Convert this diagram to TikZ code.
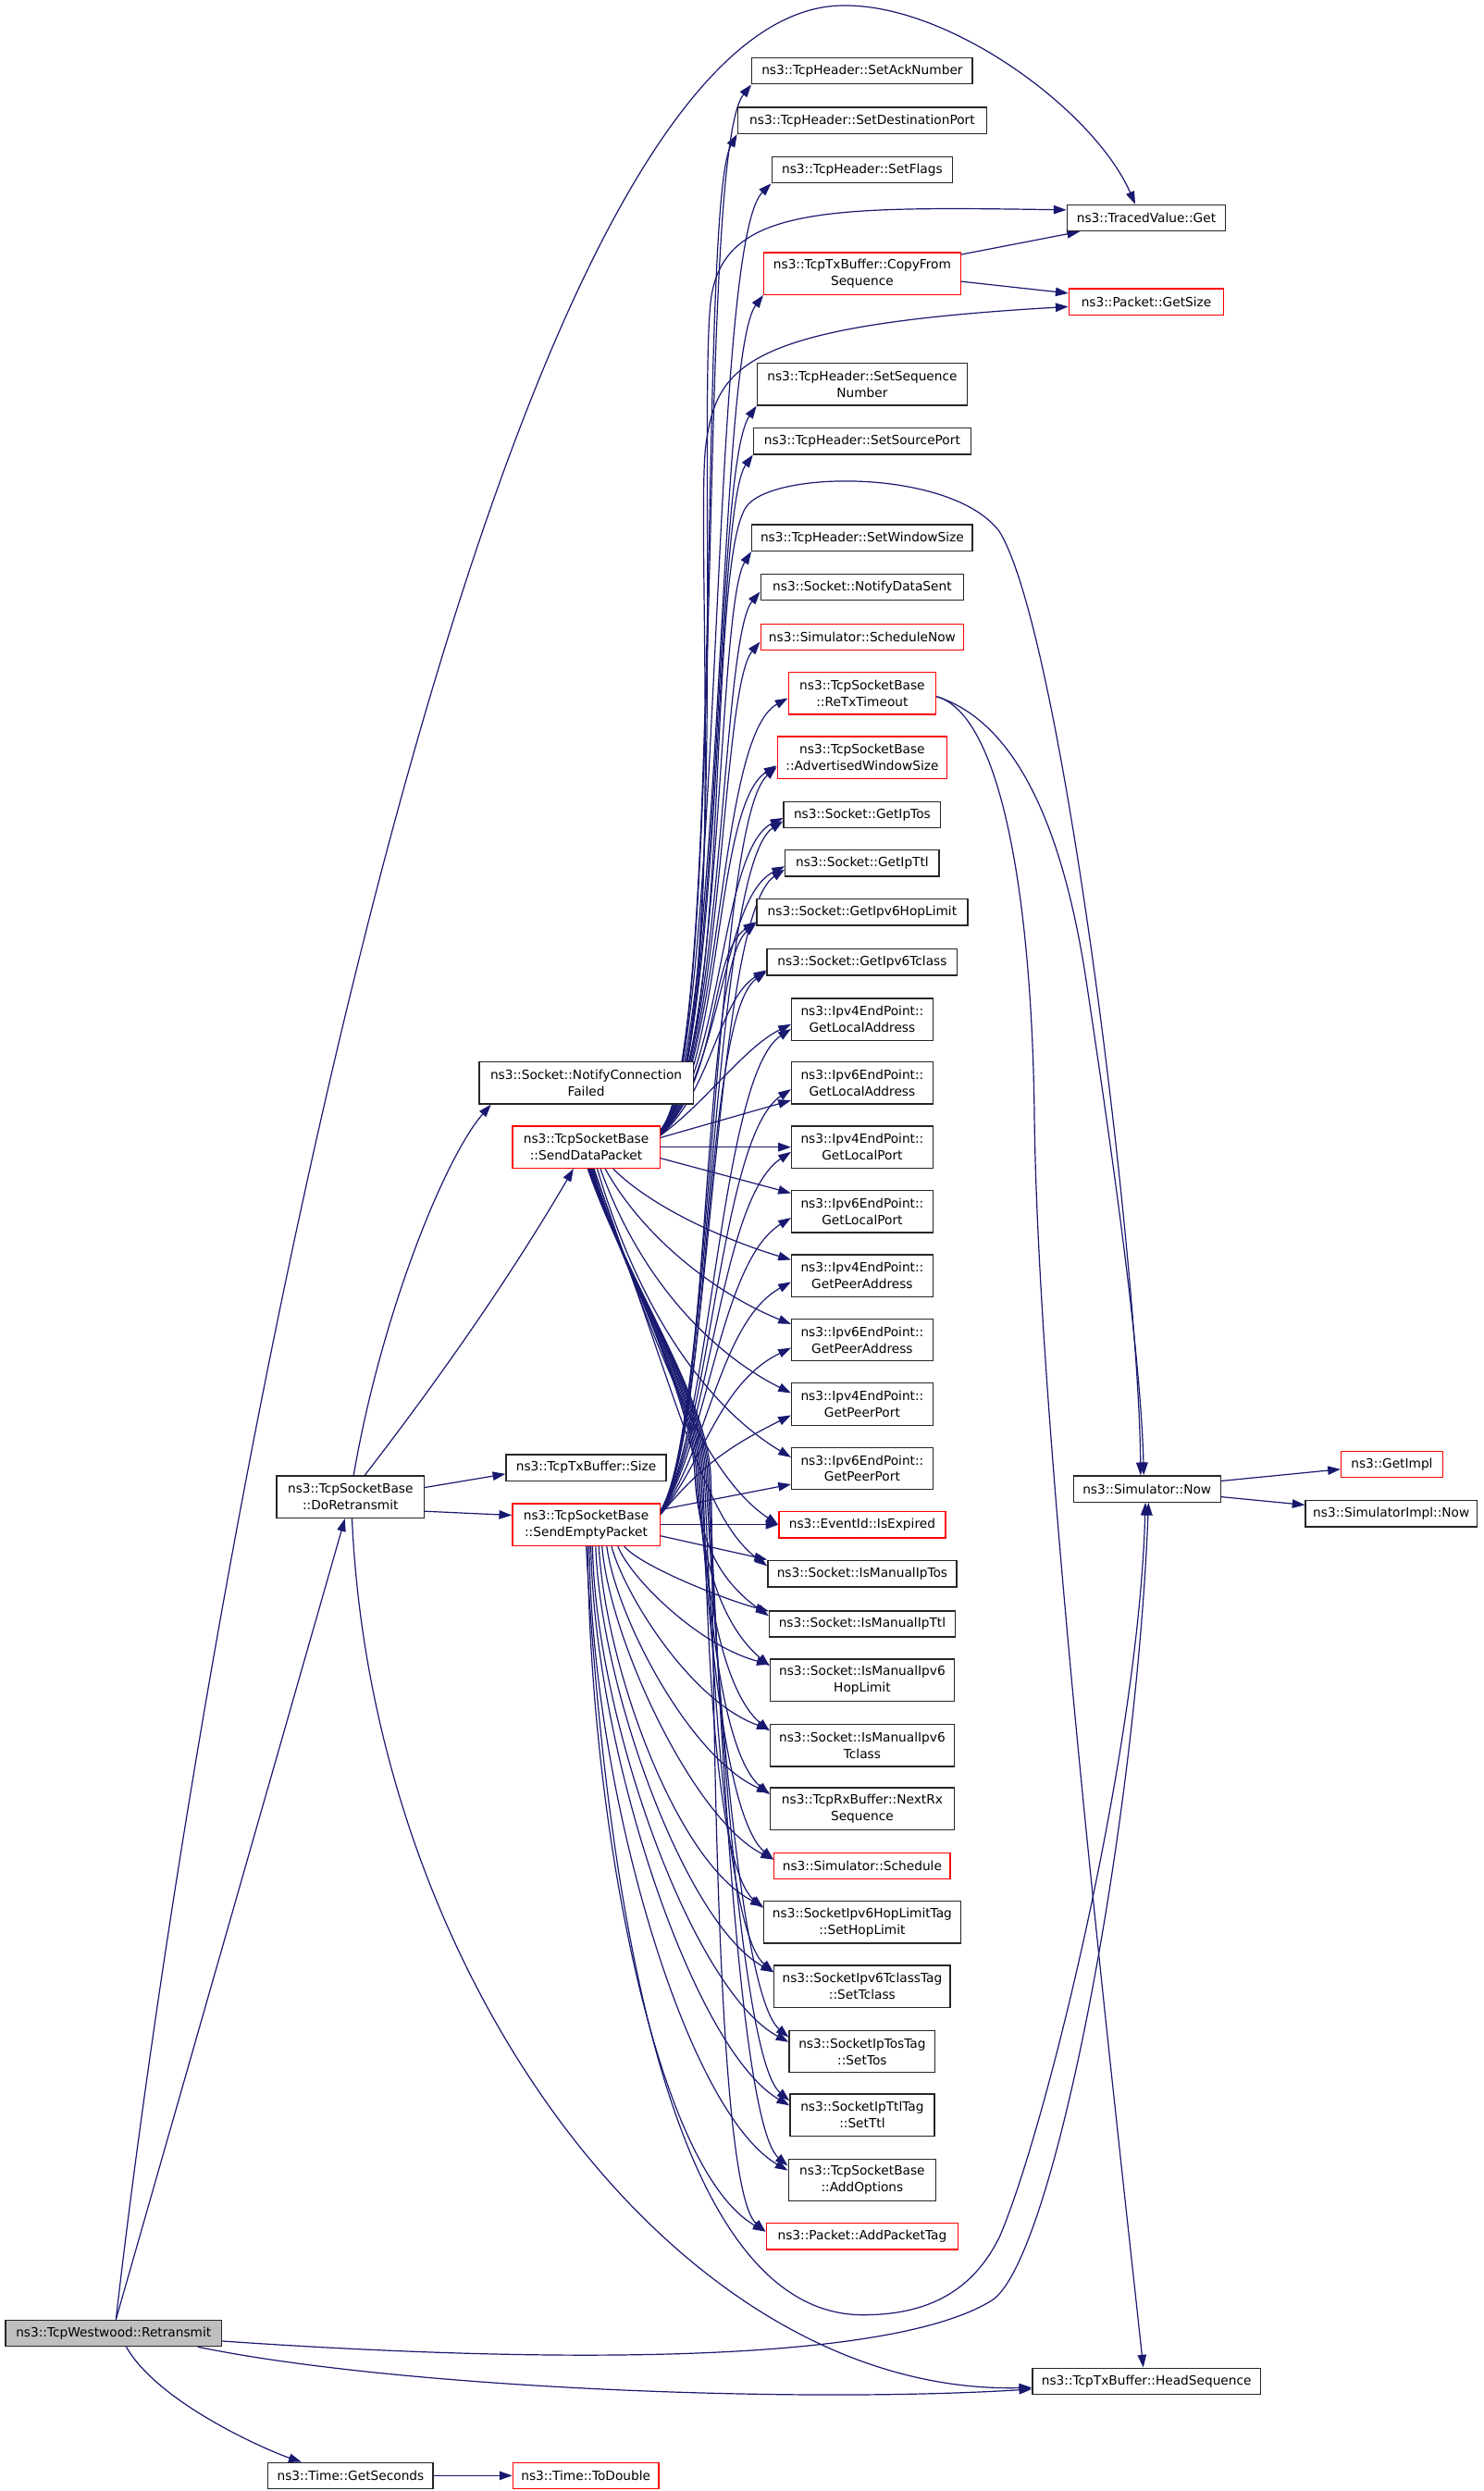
\documentclass[tikz,border=0pt]{standalone}
\usepackage{fontspec}
\setmainfont{DejaVu Sans}
\usetikzlibrary{arrows.meta}
\definecolor{edgec}{HTML}{191970}
\definecolor{grayfill}{HTML}{BFBFBF}
\pgfdeclarelayer{background}
\pgfdeclarelayer{edges}
\pgfsetlayers{background,edges,main}
\begin{document}
\begin{tikzpicture}[x=1pt,y=-1pt,
  box/.style={draw=black!85, line width=0.8pt, fill=white, inner xsep=3pt, inner ysep=0pt,
    minimum height=16.5pt, font=\fontsize{8}{10.4}\selectfont, align=center},
  two/.style={minimum height=26.5pt},
  hot/.style={draw=red},
  cg/.style={draw=edgec, line width=0.7pt, -{Triangle[length=8pt,width=5.5pt]}}]
\begin{pgfonlayer}{background}
\fill[white] (0,0) rectangle (935,1570);
\end{pgfonlayer}
\useasboundingbox (0,0) rectangle (935,1570);

% ---------- left ----------
\node[box, fill=grayfill, minimum width=136pt] (R) at (71.6,1470.5) {ns3::TcpWestwood::Retransmit};
\node[box, minimum width=104pt] (GS) at (221,1560.3) {ns3::Time::GetSeconds};
\node[box, hot, minimum width=92pt] (TD) at (369.3,1560.3) {ns3::Time::ToDouble};
\node[box, two, minimum width=93pt] (DR) at (220.9,943.5) {ns3::TcpSocketBase\\::DoRetransmit};
\node[box, two, minimum width=135pt] (NCF) at (369.5,682.5) {ns3::Socket::NotifyConnection\\Failed};
\node[box, two, hot, minimum width=93pt] (S1) at (369.5,723) {ns3::TcpSocketBase\\::SendDataPacket};
\node[box, minimum width=101pt] (SZ) at (369.5,925) {ns3::TcpTxBuffer::Size};
\node[box, two, hot, minimum width=93pt] (S2) at (369.5,961) {ns3::TcpSocketBase\\::SendEmptyPacket};

% ---------- middle column ----------
\node[box, minimum width=139pt] (sAck) at (543.5,44.7) {ns3::TcpHeader::SetAckNumber};
\node[box, minimum width=157pt] (sDest) at (543.5,76) {ns3::TcpHeader::SetDestinationPort};
\node[box, minimum width=114pt] (sFlags) at (543.5,107) {ns3::TcpHeader::SetFlags};
\node[box, two, hot, minimum width=124pt] (copyFrom) at (543.5,172.4) {ns3::TcpTxBuffer::CopyFrom\\Sequence};
\node[box, two, minimum width=132.5pt] (sSeq) at (543.5,242.2) {ns3::TcpHeader::SetSequence\\Number};
\node[box, minimum width=137pt] (sSrc) at (543.5,278) {ns3::TcpHeader::SetSourcePort};
\node[box, minimum width=139pt] (sWin) at (543.5,339) {ns3::TcpHeader::SetWindowSize};
\node[box, minimum width=128pt] (notify) at (543.5,370) {ns3::Socket::NotifyDataSent};
\node[box, hot, minimum width=128pt] (schedNow) at (543.5,401.5) {ns3::Simulator::ScheduleNow};
\node[box, two, hot, minimum width=93pt] (retx) at (543.5,437) {ns3::TcpSocketBase\\::ReTxTimeout};
\node[box, two, hot, minimum width=107pt] (adv) at (543.5,477.5) {ns3::TcpSocketBase\\::AdvertisedWindowSize};
\node[box, minimum width=99pt] (ipTos) at (543.5,513.5) {ns3::Socket::GetIpTos};
\node[box, minimum width=97pt] (ipTtl) at (543.5,544) {ns3::Socket::GetIpTtl};
\node[box, minimum width=133pt] (hop) at (543.5,575) {ns3::Socket::GetIpv6HopLimit};
\node[box, minimum width=120pt] (tclass) at (543.5,606.5) {ns3::Socket::GetIpv6Tclass};
\node[box, two, minimum width=89pt] (v4LA) at (543.5,642.5) {ns3::Ipv4EndPoint::\\GetLocalAddress};
\node[box, two, minimum width=89pt] (v6LA) at (543.5,682.5) {ns3::Ipv6EndPoint::\\GetLocalAddress};
\node[box, two, minimum width=89pt] (v4LP) at (543.5,723) {ns3::Ipv4EndPoint::\\GetLocalPort};
\node[box, two, minimum width=89pt] (v6LP) at (543.5,763.5) {ns3::Ipv6EndPoint::\\GetLocalPort};
\node[box, two, minimum width=89pt] (v4PA) at (543.5,804) {ns3::Ipv4EndPoint::\\GetPeerAddress};
\node[box, two, minimum width=89pt] (v6PA) at (543.5,844.5) {ns3::Ipv6EndPoint::\\GetPeerAddress};
\node[box, two, minimum width=89pt] (v4PP) at (543.5,885) {ns3::Ipv4EndPoint::\\GetPeerPort};
\node[box, two, minimum width=89pt] (v6PP) at (543.5,925.5) {ns3::Ipv6EndPoint::\\GetPeerPort};
\node[box, hot, minimum width=105pt] (isExp) at (543.5,961) {ns3::EventId::IsExpired};
\node[box, minimum width=119pt] (imTos) at (543.5,992) {ns3::Socket::IsManualIpTos};
\node[box, minimum width=117pt] (imTtl) at (543.5,1023.5) {ns3::Socket::IsManualIpTtl};
\node[box, two, minimum width=116pt] (imHop) at (543.5,1059) {ns3::Socket::IsManualIpv6\\HopLimit};
\node[box, two, minimum width=116pt] (imTcl) at (543.5,1100) {ns3::Socket::IsManualIpv6\\Tclass};
\node[box, two, minimum width=116pt] (nextRx) at (543.5,1140) {ns3::TcpRxBuffer::NextRx\\Sequence};
\node[box, hot, minimum width=111pt] (sched) at (543.5,1176) {ns3::Simulator::Schedule};
\node[box, two, minimum width=124pt] (setHop) at (543.5,1211.5) {ns3::SocketIpv6HopLimitTag\\::SetHopLimit};
\node[box, two, minimum width=111pt] (setTcl) at (543.5,1252) {ns3::SocketIpv6TclassTag\\::SetTclass};
\node[box, two, minimum width=92pt] (setTos) at (543.5,1293) {ns3::SocketIpTosTag\\::SetTos};
\node[box, two, minimum width=91pt] (setTtl) at (543.5,1333) {ns3::SocketIpTtlTag\\::SetTtl};
\node[box, two, minimum width=93pt] (addOpt) at (543.5,1374) {ns3::TcpSocketBase\\::AddOptions};
\node[box, hot, minimum width=121pt] (addTag) at (543.5,1409.5) {ns3::Packet::AddPacketTag};

% ---------- right ----------
\node[box, minimum width=100pt] (TV) at (722.6,137.3) {ns3::TracedValue::Get};
\node[box, hot, minimum width=97.6pt] (GetSize) at (722.6,190.3) {ns3::Packet::GetSize};
\node[box, minimum width=92.7pt] (Now) at (723,938.4) {ns3::Simulator::Now};
\node[box, minimum width=143.8pt] (HS) at (722.7,1500.8) {ns3::TcpTxBuffer::HeadSequence};
\node[box, hot, minimum width=64pt] (GetImpl) at (877.4,923) {ns3::GetImpl};
\node[box, minimum width=108pt] (SimImpl) at (877,954) {ns3::SimulatorImpl::Now};

\begin{pgfonlayer}{edges}
% ---------- Retransmit ----------
\draw[cg] ([xshift=1.5pt]R.north) -- ([xshift=-3.5pt]DR.south);
\draw[cg] ([xshift=1.5pt]R.north) .. controls (120,1050) and (300,0) .. (533,3.5)
  .. controls (600,3.5) and (690,70) .. ([xshift=-7pt]TV.north);
\draw[cg] ([yshift=-5pt]R.east) .. controls (350,1490) and (560,1490) .. (625,1450)
  .. controls (664,1426) and (716,1150) .. ([xshift=1pt]Now.south);
\draw[cg] ([xshift=53pt]R.south) .. controls (250,1505) and (500,1515) .. ([yshift=-5pt]HS.west);
\draw[cg] ([xshift=8pt]R.south) .. controls (100,1515) and (170,1545) .. ([xshift=-31pt]GS.north);
\draw[cg] (GS.east) -- (TD.west);

% ---------- DoRetransmit ----------
\draw[cg] ([xshift=2pt]DR.north) .. controls (240,830) and (280,730) .. ([xshift=-60pt]NCF.south);
\draw[cg] ([xshift=9pt]DR.north) .. controls (280,865) and (324,801) .. ([xshift=-8pt]S1.south);
\draw[cg] ([yshift=6pt]DR.east) -- ([yshift=-4pt]SZ.west);
\draw[cg] ([yshift=-9pt]DR.east) -- ([yshift=6pt]S2.west);
\draw[cg] ([xshift=1pt]DR.south) .. controls (235,1250) and (430,1510) .. ([yshift=-4pt]HS.west);

% ---------- SendDataPacket: upward ----------
\draw[cg] ([yshift=11pt]S1.east) .. controls +(42,-45) and +(-36,45) .. (sAck.south west);
\draw[cg] ([yshift=11pt]S1.east) .. controls +(40,-45) and +(-25,45) .. (sDest.south west);
\draw[cg] ([yshift=10.5pt]S1.east) .. controls +(40,-45) and +(-40,40) .. (sFlags.south west);
\draw[cg] ([yshift=10.5pt]S1.east) .. controls +(40,-45) and +(-30,40) .. (copyFrom.south west);
\draw[cg] ([yshift=10pt]S1.east) .. controls +(40,-42) and +(-28,40) .. (sSeq.south west);
\draw[cg] ([yshift=10pt]S1.east) .. controls +(40,-42) and +(-25,35) .. (sSrc.south west);
\draw[cg] ([yshift=9.5pt]S1.east) .. controls +(40,-42) and +(-22,35) .. (sWin.south west);
\draw[cg] ([yshift=9.5pt]S1.east) .. controls +(40,-42) and +(-25,30) .. ([yshift=-3pt]notify.west);
\draw[cg] ([yshift=9pt]S1.east) .. controls +(40,-42) and +(-25,30) .. ([yshift=-3pt]schedNow.west);
\draw[cg] ([yshift=9pt]S1.east) .. controls +(40,-42) and +(-45,25) .. ([yshift=-3pt]retx.west);
\draw[cg] ([yshift=8.5pt]S1.east) .. controls +(40,-40) and +(-40,25) .. ([yshift=-5pt]adv.west);
\draw[cg] ([yshift=8.5pt]S1.east) .. controls +(40,-40) and +(-40,20) .. ([yshift=-2pt]ipTos.west);
\draw[cg] ([yshift=8pt]S1.east) .. controls +(40,-40) and +(-40,20) .. ([yshift=-2pt]ipTtl.west);
\draw[cg] ([yshift=8pt]S1.east) .. controls +(38,-36) and +(-30,20) .. ([yshift=-6pt]hop.west);
\draw[cg] ([yshift=7.5pt]S1.east) .. controls +(32,-28) and +(-30,18) .. ([yshift=-5pt]tclass.west);
\draw[cg] ([yshift=7.5pt]S1.east) .. controls +(28,-20) and +(-30,15) .. ([yshift=-3pt]v4LA.west);
\draw[cg] ([yshift=9pt]S1.east) .. controls (460,670) and (440,260) .. (448,190)
  .. controls (455,130) and (520,130) .. ([yshift=5pt]TV.west);
\draw[cg] ([yshift=9pt]S1.east) .. controls (460,670) and (438,330) .. (445,280)
  .. controls (452,230) and (470,205) .. ([yshift=-3pt]GetSize.west);
\draw[cg] ([yshift=10pt]S1.east) .. controls (462,665) and (445,360) .. (470,320)
  .. controls (485,296) and (600,295) .. (630,335)
  .. controls (670,400) and (718,800) .. ([xshift=-4pt]Now.north);

% ---------- SendDataPacket: fan ----------
\draw[cg] ([yshift=6pt]S1.east) -- ([yshift=-11pt]v6LA.west);
\draw[cg] (S1.east) -- (v4LP.west);
\draw[cg] ([yshift=-7pt]S1.east) -- ([yshift=11.5pt]v6LP.west);
\draw[cg] ([xshift=17pt]S1.south) .. controls +(25,25) and +(-40,-12) .. ([yshift=10pt]v4PA.west);
\draw[cg] ([xshift=12pt]S1.south) .. controls +(25,45) and +(-45,-18) .. ([yshift=10pt]v6PA.west);
\draw[cg] ([xshift=9pt]S1.south) .. controls +(25,70) and +(-50,-25) .. ([yshift=7pt]v4PP.west);
\draw[cg] ([xshift=7pt]S1.south) .. controls +(28,95) and +(-50,-30) .. ([yshift=7pt]v6PP.west);
\draw[cg] ([xshift=5pt]S1.south) .. controls +(40,120) and +(-45,-30) .. (isExp.west);
\draw[cg] ([xshift=4.5pt]S1.south) .. controls +(55,150) and +(-40,-30) .. ([yshift=5pt]imTos.west);
% ---------- SendDataPacket: steep bundle ----------
\draw[cg] ([xshift=4pt]S1.south) .. controls +(22,70) and (436,880) .. (438,930)
  .. controls (440,965) and +(-35,-25) .. ([yshift=5pt]imTtl.west);
\draw[cg] ([xshift=3.5pt]S1.south) .. controls +(22,70) and (437,880) .. (439,930)
  .. controls (441,970) and +(-35,-30) .. ([yshift=9pt]imHop.west);
\draw[cg] ([xshift=3pt]S1.south) .. controls +(22,70) and (438,880) .. (440,930)
  .. controls (442,970) and +(-35,-30) .. ([yshift=9pt]imTcl.west);
\draw[cg] ([xshift=3pt]S1.south) .. controls +(23,70) and (440,880) .. (442,930)
  .. controls (444,970) and +(-35,-30) .. ([yshift=9pt]nextRx.west);
\draw[cg] ([xshift=2.5pt]S1.south) .. controls +(23,70) and (439,880) .. (441,930)
  .. controls (443,970) and +(-35,-30) .. ([yshift=4pt]sched.west);
\draw[cg] ([xshift=2.5pt]S1.south) .. controls +(23,70) and (441,880) .. (443,930)
  .. controls (445,970) and +(-35,-30) .. ([yshift=9pt]setHop.west);
\draw[cg] ([xshift=2pt]S1.south) .. controls +(24,70) and (442,880) .. (444,930)
  .. controls (446,970) and +(-35,-30) .. ([yshift=9pt]setTcl.west);
\draw[cg] ([xshift=2pt]S1.south) .. controls +(24,70) and (443,880) .. (445,930)
  .. controls (447,970) and +(-35,-30) .. ([yshift=9pt]setTos.west);
\draw[cg] ([xshift=1.5pt]S1.south) .. controls +(24,70) and (444,880) .. (446,930)
  .. controls (448,970) and +(-35,-30) .. ([yshift=9pt]setTtl.west);
\draw[cg] ([xshift=1.5pt]S1.south) .. controls +(24,70) and (445,880) .. (447,930)
  .. controls (449,970) and +(-35,-30) .. ([yshift=9pt]addOpt.west);
\draw[cg] ([xshift=1pt]S1.south) .. controls +(24,70) and (446,880) .. (448,930)
  .. controls (450,970) and +(-35,-30) .. ([yshift=3pt]addTag.west);

% ---------- SendEmptyPacket: upward ----------
\draw[cg] ([yshift=9pt]S2.east) .. controls +(32,-50) and +(-40,35) .. ([yshift=-6pt]adv.west);
\draw[cg] ([yshift=9pt]S2.east) .. controls +(32,-50) and +(-45,30) .. ([yshift=-4pt]ipTos.west);
\draw[cg] ([yshift=8.5pt]S2.east) .. controls +(32,-50) and +(-45,30) .. ([yshift=-4pt]ipTtl.west);
\draw[cg] ([yshift=8.5pt]S2.east) .. controls +(32,-50) and +(-35,30) .. ([yshift=-7pt]hop.west);
\draw[cg] ([yshift=8pt]S2.east) .. controls +(32,-50) and +(-40,28) .. ([yshift=-6pt]tclass.west);
\draw[cg] ([yshift=8pt]S2.east) .. controls +(32,-50) and +(-45,30) .. ([yshift=-6pt]v4LA.west);
\draw[cg] ([yshift=7.5pt]S2.east) .. controls +(32,-50) and +(-45,30) .. ([yshift=-4pt]v6LA.west);
\draw[cg] ([yshift=7.5pt]S2.east) .. controls +(32,-50) and +(-45,30) .. ([yshift=-3pt]v4LP.west);
\draw[cg] ([yshift=7pt]S2.east) .. controls +(30,-45) and +(-45,28) .. ([yshift=-4pt]v6LP.west);
\draw[cg] ([yshift=7pt]S2.east) .. controls +(30,-40) and +(-45,25) .. ([yshift=-4pt]v4PA.west);
\draw[cg] ([yshift=6.5pt]S2.east) .. controls +(28,-35) and +(-45,22) .. ([yshift=-5pt]v6PA.west);
\draw[cg] ([yshift=6.5pt]S2.east) .. controls +(25,-30) and +(-40,20) .. ([yshift=-7pt]v4PP.west);
\draw[cg] ([yshift=9.5pt]S2.east) -- ([yshift=-10pt]v6PP.west);

% ---------- SendEmptyPacket: fan ----------
\draw[cg] (S2.east) -- (isExp.west);
\draw[cg] ([yshift=-7pt]S2.east) -- ([yshift=9pt]imTos.west);
\draw[cg] ([xshift=24pt]S2.south) .. controls +(10,12) and +(-30,-8) .. ([yshift=8pt]imTtl.west);
\draw[cg] ([xshift=20pt]S2.south) .. controls +(8,20) and +(-45,-12) .. ([yshift=10pt]imHop.west);
\draw[cg] ([xshift=16pt]S2.south) .. controls +(8,30) and +(-50,-18) .. ([yshift=10pt]imTcl.west);
\draw[cg] ([xshift=13pt]S2.south) .. controls +(6,45) and +(-50,-22) .. ([yshift=10pt]nextRx.west);
\draw[cg] ([xshift=10pt]S2.south) .. controls +(5,60) and +(-50,-25) .. ([yshift=4pt]sched.west);
\draw[cg] ([xshift=8pt]S2.south) .. controls +(4,75) and +(-55,-28) .. ([yshift=10pt]setHop.west);
\draw[cg] ([xshift=6pt]S2.south) .. controls +(3,90) and +(-55,-30) .. ([yshift=9pt]setTcl.west);
\draw[cg] ([xshift=4pt]S2.south) .. controls +(2,110) and +(-60,-32) .. ([yshift=6pt]setTos.west);
\draw[cg] ([xshift=3pt]S2.south) .. controls +(2,130) and +(-60,-35) .. ([yshift=6pt]setTtl.west);
\draw[cg] ([xshift=2pt]S2.south) .. controls +(1,150) and +(-65,-38) .. ([yshift=6pt]addOpt.west);
\draw[cg] ([xshift=1pt]S2.south) .. controls +(1,170) and +(-70,-40) .. ([yshift=3pt]addTag.west);
\draw[cg] (S2.south) .. controls (385,1250) and (435,1459) .. (544,1459)
  .. controls (590,1459) and (615,1440) .. (630,1410)
  .. controls (660,1340) and (718,1100) .. ([xshift=-1pt]Now.south);

% ---------- others ----------
\draw[cg] ([yshift=12pt]copyFrom.east) -- ([xshift=-42pt]TV.south);
\draw[cg] ([yshift=-5pt]copyFrom.east) -- ([yshift=5.5pt]GetSize.west);
\draw[cg] ([yshift=-2pt]retx.east) .. controls (640,455) and (670,520) .. (685,620)
  .. controls (700,720) and (719,850) .. ([xshift=-2pt]Now.north);
\draw[cg] ([yshift=-2pt]retx.east) .. controls (630,450) and (650,560) .. (652,700)
  .. controls (654,900) and (700,1300) .. ([xshift=-2pt]HS.north);
\draw[cg] ([yshift=5pt]Now.east) -- ([yshift=-3pt]GetImpl.west);
\draw[cg] ([yshift=-5pt]Now.east) -- ([yshift=5.5pt]SimImpl.west);
\end{pgfonlayer}
\end{tikzpicture}
\end{document}
